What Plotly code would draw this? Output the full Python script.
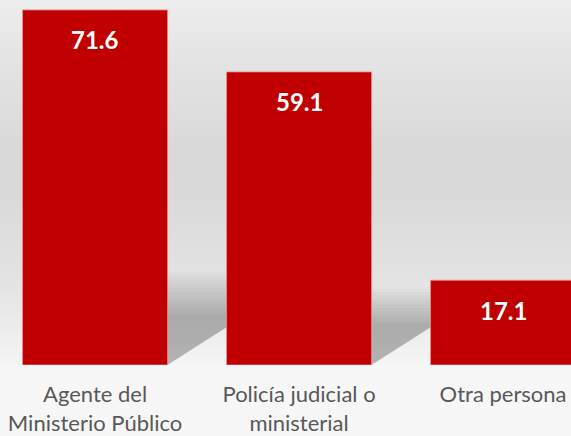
import plotly.graph_objects as go

categories = ["Agente del<br>Ministerio Público", "Policía judicial o<br>ministerial", "Otra persona"]
values = [71.6, 59.1, 17.1]
value_labels = ["71.6", "59.1", "17.1"]

BAR_COLOR = "#C00000"
FONT = "Lato, 'Open Sans', sans-serif"
x_pos = list(range(len(values)))
bar_width = 0.711

fig = go.Figure()
fig.add_trace(go.Bar(
    x=x_pos, y=values, width=bar_width,
    marker=dict(color=BAR_COLOR, line=dict(color="rgba(240,140,140,0.8)", width=1)),
    hoverinfo="skip", showlegend=False,
))

shapes = []
# vertical background gradient (plot area)
stops = [(0.0, 238), (0.16, 228), (0.41, 217), (0.55, 218), (0.77, 227), (0.9, 236), (1.0, 245)]
def grey_at(t):
    for (t0, g0), (t1, g1) in zip(stops[:-1], stops[1:]):
        if t0 <= t <= t1:
            return g0 + (g1 - g0) * (t - t0) / (t1 - t0)
    return stops[-1][1]
n = 120
for k in range(n):
    t = (k + 0.5) / n
    g = int(round(grey_at(t)))
    shapes.append(dict(type="rect", xref="paper", yref="paper",
                       x0=0, x1=1, y0=1 - (k + 1) / n, y1=1 - k / n + 0.002,
                       fillcolor=f"rgb({g},{g},{g})", line=dict(width=0), layer="below"))

# perspective shadows behind bars (soft, layered)
for xi, v in zip(x_pos, values):
    x0, x1 = xi - bar_width / 2, xi + bar_width / 2
    for k in range(12):
        f = 0.14 + 0.011 * k
        dy = f * v
        dx = (f / 0.21) * 0.008 * v
        path = f"M {x0},0 L {x1},0 L {x1 + dx},{dy} L {x0 + dx},{dy} Z"
        shapes.append(dict(type="path", xref="x", yref="y", path=path,
                           fillcolor="rgba(0,0,0,0.024)", line=dict(width=0), layer="below"))

annotations = []
for xi, v, lab in zip(x_pos, values, value_labels):
    annotations.append(dict(x=xi, y=v, xref="x", yref="y", text=f"<b>{lab}</b>",
                            showarrow=False, yanchor="middle", yshift=-30,
                            font=dict(family=FONT, size=24, color="white")))

fig.update_layout(
    width=571, height=436,
    margin=dict(l=0, r=0, t=0, b=71, pad=0),
    paper_bgcolor="#f7f7f7", plot_bgcolor="rgba(0,0,0,0)",
    shapes=shapes, annotations=annotations,
    xaxis=dict(range=[-0.466, 2.333], tickvals=x_pos, ticktext=categories,
               showgrid=False, zeroline=False, showline=False, ticks="",
               tickfont=dict(family=FONT, size=22, color="#595959"),
               ticklabelstandoff=14, automargin=False),
    yaxis=dict(range=[0, 73.6], visible=False, showgrid=False, zeroline=False),
    showlegend=False,
)

fig.write_html("out.html", config={"displayModeBar": False},
               post_script="document.body.style.margin='0';document.body.style.overflow='hidden';")
